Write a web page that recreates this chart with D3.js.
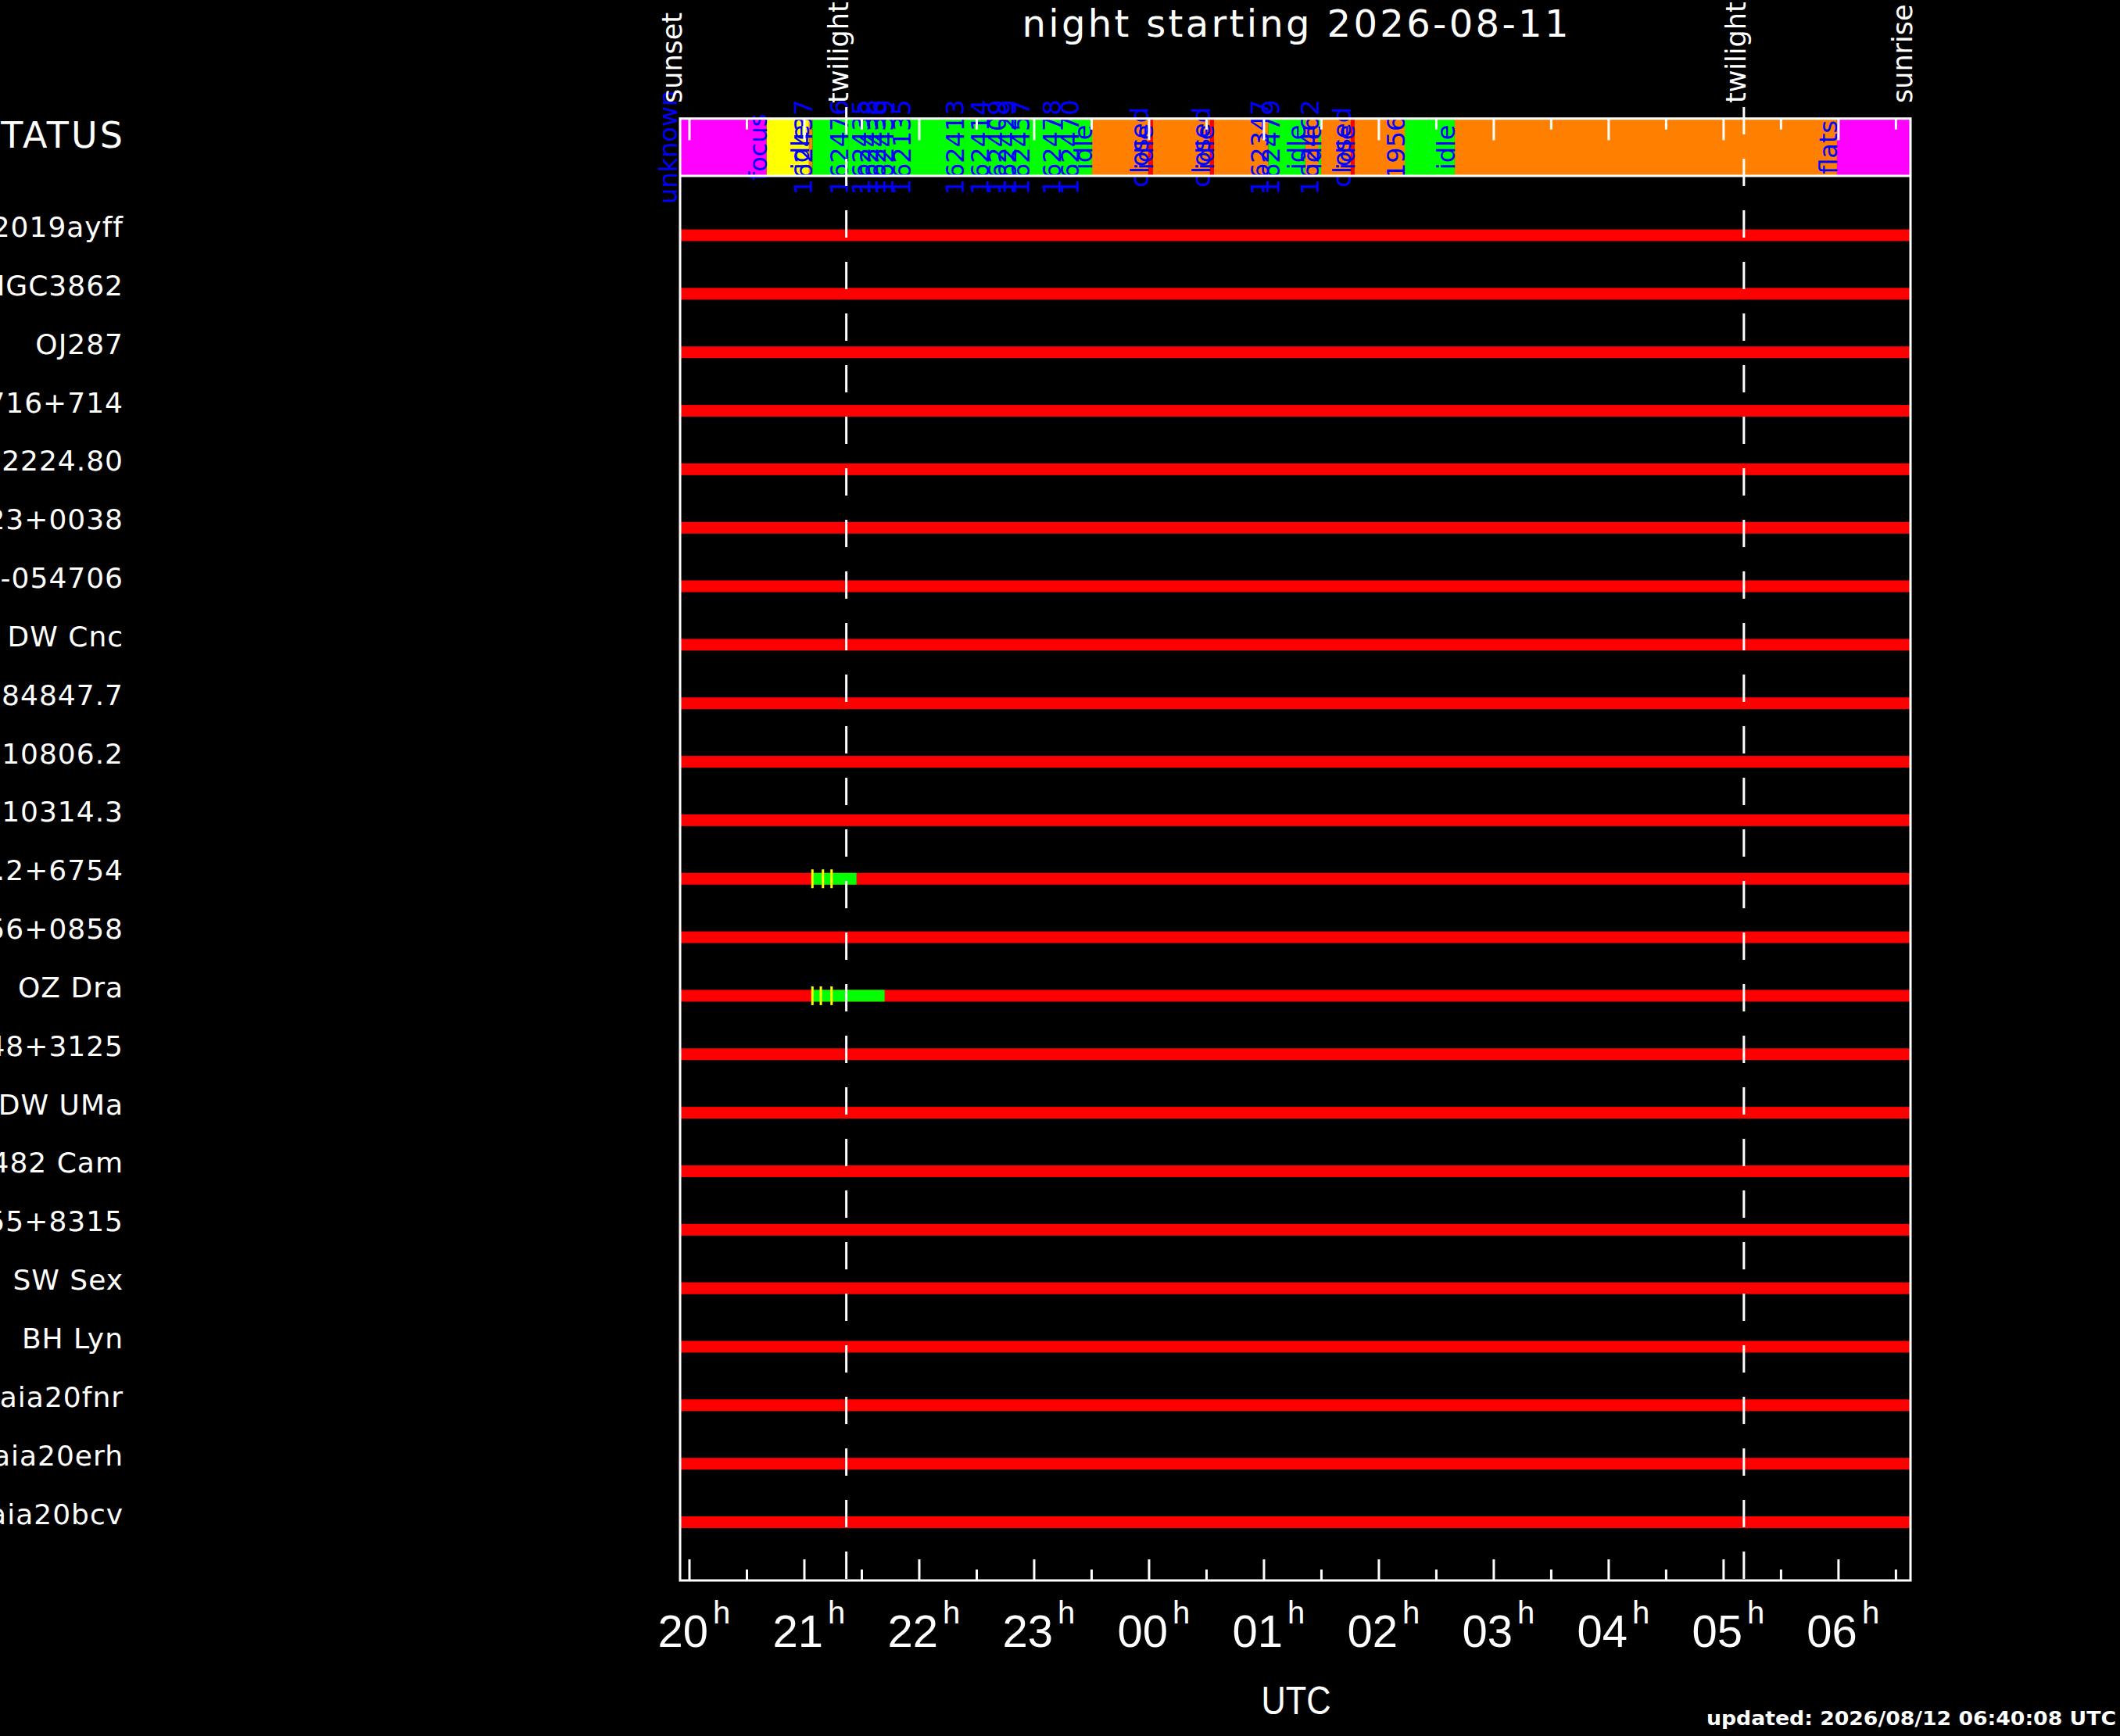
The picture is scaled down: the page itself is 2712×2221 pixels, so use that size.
<!DOCTYPE html>
<html><head><meta charset="utf-8">
<script src="https://cdn.jsdelivr.net/npm/d3@7"></script>
<style>html,body{margin:0;padding:0;background:#000;overflow:hidden;} svg{display:block;}</style>
</head><body>
<svg id="chart" width="2712" height="2221"></svg>
<script>
// ---------------- data ----------------
const titleText = "night starting 2026-08-11";
const updatedText = "updated: 2026/08/12 06:40:08 UTC";
const axisTitle = "UTC";
const sunsetTime = "19:55:06";
const sunriseTime = "06:37:36";
const twilightTimes = ["21:21:54", "05:10:36"];
const sunLabels = ["sunset", "twilight", "twilight", "sunrise"];

const targets = ["AT2019ayff", "NGC3862", "OJ287", "S5 0716+714", "TIC 2224.80",
  "SDSS J1523+0038", "J012345 -054706", "DW Cnc", "SDSS J 84847.7", "CSS J 10806.2",
  "CSS J 10314.3", "J1804.2+6754", "SDSS J2156+0858", "OZ Dra", "J0748+3125",
  "DW UMa", "V482 Cam", "HS 0455+8315", "SW Sex", "BH Lyn",
  "Gaia20fnr", "Gaia20erh", "Gaia20bcv"];

const statusStarts = ["19:53:30", "20:40:18", "21:02:24", "21:04:12", "21:22:54", "21:34:18",
  "21:38:24", "21:42:24", "21:46:30", "21:55:30", "22:23:18", "22:36:18", "22:45:18",
  "22:50:36", "22:57:30", "23:13:54", "23:23:18", "23:30:12", "23:59:36", "00:02:00",
  "00:31:48", "00:33:54", "01:02:24", "01:08:12", "01:21:36", "01:28:36", "01:29:48",
  "01:45:18", "01:47:18", "02:13:30", "02:39:36", "05:59:12"];
const statusTypes = ["unknown", "focus", "idle", "observe", "observe", "observe",
  "observe", "observe", "observe", "observe", "observe", "observe", "observe",
  "observe", "observe", "observe", "observe", "idle", "closed", "idle",
  "closed", "idle", "observe", "observe", "idle", "observe", "idle",
  "closed", "idle", "observe", "idle", "flats"];
const statusLabels = ["unknown", "focus", "idle", "162437", "162476", "162435",
  "162438", "162436", "162439", "162135", "162413", "162414", "162409",
  "162429", "162457", "162478", "162470", "idle", "closed", "idle",
  "closed", "idle", "162347", "162479", "idle", "162462", "idle",
  "closed", "idle", "1956", "idle", "flats"];
const statusColorKeys = ["unknown", "focus", "idle", "closed", "observe", "flats"];
const statusColorVals = ["#ff00ff", "#ffff00", "#ff8000", "#ff0000", "#00ff00", "#ff00ff"];

const obsTargets = ["J1804.2+6754", "OZ Dra"];
const obsStarts = ["21:04:12", "21:04:12"];
const obsEnds = ["21:27:12", "21:41:54"];
const exposureTargets = ["J1804.2+6754", "J1804.2+6754", "J1804.2+6754", "OZ Dra", "OZ Dra", "OZ Dra"];
const exposureTimes = ["21:04:12", "21:09:42", "21:14:12", "21:04:12", "21:08:36", "21:14:12"];

const hourTickTimes = ["20:00:00", "21:00:00", "22:00:00", "23:00:00", "00:00:00", "01:00:00",
  "02:00:00", "03:00:00", "04:00:00", "05:00:00", "06:00:00"];
const hourTickLabels = ["20", "21", "22", "23", "00", "01", "02", "03", "04", "05", "06"];
const halfTickTimes = ["20:30:00", "21:30:00", "22:30:00", "23:30:00", "00:30:00", "01:30:00",
  "02:30:00", "03:30:00", "04:30:00", "05:30:00", "06:30:00"];

// ---------------- helpers ----------------
function T(s) {
  const [h, m, sec] = s.split(":").map(Number);
  const day = h < 12 ? 12 : 11;
  return new Date(Date.UTC(2026, 7, day, h, m, sec));
}

const L = 870, R = 2444, boxTop = 151.7, boxBot = 225, frameBot = 2022;
const svg = d3.select("#chart");
svg.append("rect").attr("width", 2712).attr("height", 2221).attr("fill", "#000");

const x = d3.scaleUtc().domain([T(sunsetTime), T(sunriseTime)]).range([L, R]);
const y = d3.scalePoint().domain(targets).range([301, 1947.5]);
const color = d3.scaleOrdinal().domain(statusColorKeys).range(statusColorVals);
const statusMid = (boxTop + boxBot) / 2;

// ---------------- status bar ----------------
const segs = statusStarts.map((s, i) => ({
  t0: T(s),
  t1: i + 1 < statusStarts.length ? T(statusStarts[i + 1]) : T(sunriseTime),
  type: statusTypes[i], label: statusLabels[i]
}));
svg.append("g").selectAll("rect").data(segs).join("rect")
  .attr("x", d => Math.max(x(d.t0), L))
  .attr("width", d => Math.max(0, x(d.t1) - Math.max(x(d.t0), L)))
  .attr("y", boxTop).attr("height", boxBot - boxTop)
  .attr("fill", d => color(d.type));

svg.append("g").selectAll("text").data(segs).join("text")
  .attr("transform", d => `translate(${x(d.t0)},${statusMid}) rotate(-90)`)
  .attr("text-anchor", "middle")
  .attr("font-family", "DejaVu Sans").attr("font-size", 32)
  .attr("fill", "#0000ff")
  .text(d => d.label);

// ---------------- target rows ----------------
svg.append("g").selectAll("rect").data(targets).join("rect")
  .attr("x", x(T(sunsetTime))).attr("width", x(T(sunriseTime)) - x(T(sunsetTime)))
  .attr("y", d => y(d) - 7.5).attr("height", 15)
  .attr("fill", "#ff0000");

svg.append("g").selectAll("rect").data(obsTargets.map((t, i) => ({t, s: T(obsStarts[i]), e: T(obsEnds[i])})))
  .join("rect")
  .attr("x", d => x(d.s)).attr("width", d => x(d.e) - x(d.s))
  .attr("y", d => y(d.t) - 7.5).attr("height", 15)
  .attr("fill", "#00ff00");

svg.append("g").selectAll("rect").data(exposureTargets.map((t, i) => ({t, s: T(exposureTimes[i])})))
  .join("rect")
  .attr("x", d => x(d.s) - 1.5).attr("width", 3)
  .attr("y", d => y(d.t) - 12).attr("height", 24)
  .attr("fill", "#ffff00");

// labels
svg.append("text").attr("x", 157).attr("y", 189)
  .attr("text-anchor", "end").attr("font-family", "DejaVu Sans").attr("font-size", 46)
  .attr("textLength", 188).attr("lengthAdjust", "spacing")
  .attr("fill", "#fff").text("STATUS");
svg.append("g").selectAll("text").data(targets).join("text")
  .attr("x", 158).attr("y", d => y(d) + 2)
  .attr("text-anchor", "end").attr("font-family", "DejaVu Sans").attr("font-size", 36)
  .attr("letter-spacing", 1)
  .attr("fill", "#fff").text(d => d);

// ---------------- twilight lines ----------------
svg.append("g").selectAll("line").data(twilightTimes).join("line")
  .attr("x1", d => x(T(d))).attr("x2", d => x(T(d)))
  .attr("y1", 137).attr("y2", frameBot)
  .attr("stroke", "#fff").attr("stroke-width", 3)
  .attr("stroke-dasharray", "35 31");

// ---------------- frame ----------------
const fr = svg.append("g").attr("stroke", "#fff").attr("stroke-width", 3).attr("fill", "none");
fr.append("rect").attr("x", L).attr("y", boxTop).attr("width", R - L).attr("height", frameBot - boxTop);
fr.append("line").attr("x1", L).attr("x2", R).attr("y1", boxBot).attr("y2", boxBot);

// ticks
const tk = svg.append("g").attr("stroke", "#fff").attr("stroke-width", 3);
hourTickTimes.forEach(t => {
  const xx = x(T(t));
  tk.append("line").attr("x1", xx).attr("x2", xx).attr("y1", boxTop).attr("y2", boxTop + 27.7);
  tk.append("line").attr("x1", xx).attr("x2", xx).attr("y1", frameBot).attr("y2", frameBot - 27);
});
halfTickTimes.forEach(t => {
  const xx = x(T(t));
  tk.append("line").attr("x1", xx).attr("x2", xx).attr("y1", boxTop).attr("y2", boxTop + 14);
  tk.append("line").attr("x1", xx).attr("x2", xx).attr("y1", frameBot).attr("y2", frameBot - 14);
});

// tick labels
const tl = svg.append("g").attr("fill", "#fff").attr("font-family", "Liberation Sans");
hourTickTimes.forEach((t, i) => {
  const xx = x(T(t));
  tl.append("text").attr("x", xx + 24).attr("y", 2106.7).attr("text-anchor", "end")
    .attr("font-size", 58).text(hourTickLabels[i]);
  tl.append("text").attr("x", xx + 30).attr("y", 2076.7).attr("text-anchor", "start")
    .attr("font-size", 40).text("h");
});

// sun / twilight labels
const sunX = [T(sunsetTime), T(twilightTimes[0]), T(twilightTimes[1]), T(sunriseTime)];
svg.append("g").selectAll("text").data(sunLabels).join("text")
  .attr("transform", (d, i) => `translate(${x(sunX[i]) + 2},132) rotate(-90)`)
  .attr("text-anchor", "start").attr("font-family", "DejaVu Sans").attr("font-size", 35)
  .attr("fill", "#fff").text(d => d);

// title & axis title
svg.append("text").attr("x", (L + R) / 2).attr("y", 46.7).attr("text-anchor", "middle")
  .attr("font-family", "DejaVu Sans").attr("font-size", 48).attr("fill", "#fff")
  .attr("textLength", 699).attr("lengthAdjust", "spacing").text(titleText);
svg.append("text").attr("x", 1658).attr("y", 2192.7).attr("text-anchor", "middle")
  .attr("font-family", "Liberation Sans").attr("font-size", 50).attr("fill", "#fff")
  .attr("textLength", 89).attr("lengthAdjust", "spacingAndGlyphs").text(axisTitle);
svg.append("text").attr("x", 2183).attr("y", 2207).attr("text-anchor", "start")
  .attr("font-family", "DejaVu Sans").attr("font-size", 24).attr("font-weight", "bold")
  .attr("fill", "#fff")
  .attr("textLength", 524).attr("lengthAdjust", "spacingAndGlyphs").text(updatedText);
</script>
</body></html>
